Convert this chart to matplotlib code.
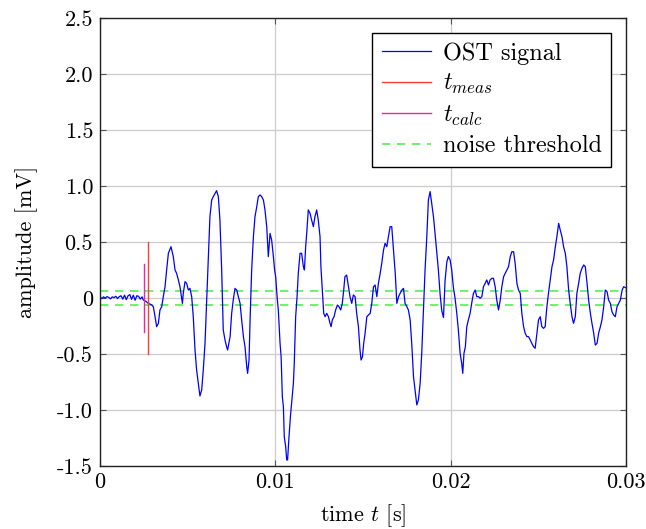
import matplotlib
matplotlib.use("Agg")
import matplotlib.pyplot as plt

plt.rcParams['font.family'] = ['cmr10', 'DejaVu Serif']
plt.rcParams['mathtext.fontset'] = 'cm'
plt.rcParams['axes.unicode_minus'] = False

# --- data (time in ms, amplitude in mV) ---
noise_t_ms = [0.0, 0.1, 0.2, 0.3, 0.4, 0.5, 0.6, 0.7, 0.8, 0.9, 1.0, 1.1, 1.2,
              1.3, 1.4, 1.5, 1.6, 1.7, 1.8, 1.9, 2.0, 2.1, 2.2, 2.3, 2.4]
noise_amp = [0.01, -0.005, 0.01, 0.0, 0.012, 0.005, -0.008, 0.01, 0.003, 0.015,
             -0.005, 0.012, 0.02, -0.01, 0.025, -0.015, 0.02, 0.03, -0.012, 0.025,
             -0.02, 0.02, 0.015, -0.01, 0.01]

wave_t_ms = [2.47, 2.62, 2.76, 2.93, 3.04, 3.14, 3.23, 3.33, 3.42, 3.52, 3.61, 3.71,
             3.80, 3.90, 4.05, 4.18, 4.28, 4.37, 4.47, 4.56, 4.70, 4.75, 4.85, 4.94,
             5.04, 5.13, 5.23, 5.32, 5.42, 5.51, 5.61, 5.70, 5.80, 5.89, 5.99, 6.08,
             6.18, 6.27, 6.37, 6.46, 6.65, 6.75, 6.84, 6.94, 7.03, 7.13, 7.22, 7.28,
             7.42, 7.51, 7.60, 7.70, 7.80, 7.89, 7.99, 8.08, 8.18, 8.27, 8.37, 8.42,
             8.50, 8.56, 8.65, 8.75, 8.84, 8.94, 9.03, 9.13, 9.22, 9.32, 9.41, 9.51,
             9.60, 9.70, 9.79, 9.89, 9.96, 10.02, 10.10, 10.17, 10.27, 10.33, 10.40,
             10.46, 10.51, 10.59, 10.65, 10.70, 10.78, 10.86, 10.93, 11.03, 11.08,
             11.16, 11.24, 11.31, 11.41, 11.50, 11.60, 11.66, 11.73, 11.79, 11.88,
             11.98, 12.07, 12.17, 12.26, 12.36, 12.45, 12.55, 12.60, 12.68, 12.76,
             12.84, 12.93, 13.03, 13.12, 13.18, 13.25, 13.35, 13.44, 13.54, 13.63,
             13.73, 13.82, 13.90, 13.97, 14.07, 14.17, 14.26, 14.36, 14.45, 14.55,
             14.64, 14.74, 14.83, 14.89, 14.97, 15.04, 15.12, 15.22, 15.31, 15.41,
             15.50, 15.60, 15.69, 15.79, 15.88, 15.98, 16.07, 16.17, 16.26, 16.36,
             16.45, 16.55, 16.64, 16.74, 16.84, 16.93, 17.03, 17.12, 17.22, 17.31,
             17.40, 17.50, 17.59, 17.69, 17.78, 17.88, 17.97, 18.07, 18.16, 18.26,
             18.35, 18.45, 18.54, 18.64, 18.73, 18.83, 18.92, 19.02, 19.11, 19.21,
             19.30, 19.40, 19.49, 19.59, 19.68, 19.78, 19.87, 19.97, 20.06, 20.16,
             20.25, 20.35, 20.44, 20.54, 20.63, 20.69, 20.76, 20.84, 20.92, 21.01,
             21.11, 21.20, 21.30, 21.40, 21.49, 21.59, 21.68, 21.78, 21.87, 21.97,
             22.06, 22.16, 22.25, 22.35, 22.44, 22.54, 22.63, 22.73, 22.83, 22.92,
             23.02, 23.11, 23.21, 23.30, 23.40, 23.49, 23.59, 23.68, 23.78, 23.87,
             23.97, 24.06, 24.16, 24.25, 24.35, 24.44, 24.54, 24.63, 24.73, 24.82,
             24.92, 25.01, 25.11, 25.20, 25.30, 25.39, 25.49, 25.58, 25.68, 25.78,
             25.87, 25.97, 26.06, 26.16, 26.25, 26.35, 26.44, 26.54, 26.63, 26.73,
             26.82, 26.92, 27.01, 27.11, 27.20, 27.30, 27.39, 27.49, 27.59, 27.68,
             27.78, 27.87, 27.97, 28.06, 28.16, 28.25, 28.35, 28.44, 28.54, 28.63,
             28.73, 28.82, 28.92, 29.01, 29.11, 29.20, 29.30, 29.39, 29.49, 29.58,
             29.68, 29.78, 29.87, 30.0]
wave_amp = [-0.018, -0.03, -0.048, -0.06, -0.077, -0.167, -0.256, -0.226, -0.107, -0.077, 0.012, 0.101,
            0.25, 0.399, 0.458, 0.369, 0.25, 0.22, 0.161, 0.101, -0.048, 0.042, 0.146, 0.131,
            0.071, 0.086, 0.012, -0.167, -0.464, -0.643, -0.762, -0.875, -0.821, -0.643, -0.405, -0.048,
            0.369, 0.726, 0.875, 0.905, 0.958, 0.905, 0.696, 0.25, -0.286, -0.375, -0.435, -0.464,
            -0.345, -0.137, -0.018, 0.086, 0.071, 0.012, -0.048, -0.196, -0.345, -0.435, -0.613, -0.673,
            -0.554, -0.196, 0.25, 0.548, 0.726, 0.815, 0.905, 0.92, 0.905, 0.875, 0.786, 0.637,
            0.369, 0.577, 0.518, 0.369, 0.25, 0.19, 0.012, -0.107, -0.405, -0.524, -0.881,
            -0.97, -1.238, -1.327, -1.446, -1.446, -1.238, -1.06, -0.94, -0.762, -0.583,
            -0.167, 0.012, 0.22, 0.399, 0.399, 0.28, 0.25, 0.458, 0.577, 0.786,
            0.756, 0.696, 0.637, 0.726, 0.786, 0.696, 0.548, 0.28, 0.071, -0.137,
            -0.167, -0.137, -0.167, -0.226, -0.256, -0.196, -0.167, -0.107, -0.063, -0.077,
            -0.107, -0.048, 0.071, 0.19, 0.205, 0.101, 0.012, -0.048, 0.027, 0.012,
            -0.137, -0.256, -0.464, -0.554, -0.524, -0.405, -0.315, -0.167, -0.152, -0.137,
            -0.048, 0.101, 0.116, 0.012, 0.131, 0.22, 0.309, 0.428, 0.488, 0.458,
            0.548, 0.637, 0.637, 0.428, 0.22, -0.048, 0.012, 0.042, 0.071, 0.086,
            -0.048, -0.077, -0.107, -0.196, -0.405, -0.702, -0.821, -0.955, -0.911, -0.762,
            -0.494, -0.107, 0.25, 0.548, 0.875, 0.95, 0.845, 0.726, 0.577, 0.399,
            0.25, 0.03, -0.11, -0.175, 0.15, 0.32, 0.37, 0.34, 0.25, 0.09,
            0.0, -0.137, -0.286, -0.494, -0.583, -0.673, -0.494, -0.435, -0.256, -0.196,
            -0.137, -0.048, 0.042, 0.071, 0.012, 0.012, -0.003, 0.012, 0.101, 0.131,
            0.161, 0.116, 0.161, 0.176, 0.176, 0.101, -0.018, -0.107, -0.018, 0.101,
            0.19, 0.22, 0.25, 0.28, 0.369, 0.413, 0.413, 0.309, 0.131, 0.071,
            0.042, -0.137, -0.256, -0.315, -0.345, -0.345, -0.375, -0.405, -0.435, -0.449,
            -0.315, -0.196, -0.167, -0.256, -0.271, -0.256, -0.077, 0.042, 0.161, 0.28,
            0.339, 0.458, 0.548, 0.667, 0.607, 0.548, 0.458, 0.399, 0.28, 0.071,
            -0.048, -0.167, -0.226, -0.167, 0.042, 0.131, 0.22, 0.265, 0.295, 0.28,
            0.131, -0.018, -0.137, -0.226, -0.315, -0.42, -0.405, -0.315, -0.256, -0.196,
            -0.077, 0.071, 0.057, -0.018, -0.048, -0.122, -0.152, -0.167, -0.077, -0.048,
            -0.018, 0.071, 0.101, 0.09]

t_meas_ms = 2.74
t_meas_half = 0.5
t_calc_ms = 2.49
t_calc_half = 0.3
noise_threshold = 0.06

x_ticks = [0, 0.01, 0.02, 0.03]
x_ticklabels = ["0", "0.01", "0.02", "0.03"]
y_ticks = [-1.5, -1.0, -0.5, 0, 0.5, 1.0, 1.5, 2.0, 2.5]
y_ticklabels = ["-1.5", "-1.0", "-0.5", "0", "0.5", "1.0", "1.5", "2.0", "2.5"]

t_sig = [v * 1e-3 for v in noise_t_ms + wave_t_ms]
a_sig = noise_amp + wave_amp

fig = plt.figure(figsize=(6.46, 5.29), dpi=100)
ax = fig.add_axes([0.1548, 0.1191, 0.8142, 0.8469])

ax.plot(t_sig, a_sig, color='#0000ff', lw=0.9, label='OST signal', zorder=3)
ax.plot([t_meas_ms * 1e-3] * 2, [-t_meas_half, t_meas_half], color='#ff3b3b', lw=1.0,
        label='$t_{meas}$', zorder=4)
ax.plot([t_calc_ms * 1e-3] * 2, [-t_calc_half, t_calc_half], color='#e8289e', lw=1.0,
        label='$t_{calc}$', zorder=4)
ax.axhline(noise_threshold, color='#55ee55', lw=1.2, ls=(0, (5, 4)),
           label='noise threshold', zorder=2)
ax.axhline(-noise_threshold, color='#55ee55', lw=1.2, ls=(0, (5, 4)), zorder=2)

ax.set_xlim(0, 0.03)
ax.set_ylim(-1.5, 2.5)
ax.set_xticks(x_ticks)
ax.set_xticklabels(x_ticklabels)
ax.set_yticks(y_ticks)
ax.set_yticklabels(y_ticklabels)
ax.grid(True, color='#cccccc', lw=0.9, zorder=0)
ax.set_axisbelow(True)
ax.tick_params(direction='in', length=4, width=0.8, color='#555555',
               top=True, right=True, labelsize=16, pad=5)
for s in ax.spines.values():
    s.set_linewidth(1.0)
    s.set_color('#222222')

ax.set_xlabel('time $t$ [s]', fontsize=16, labelpad=7)
ax.set_ylabel('amplitude [mV]', fontsize=16, labelpad=14)

leg = ax.legend(loc='upper right', fontsize=17.5, frameon=True, fancybox=False,
                edgecolor='black', framealpha=1, handlelength=2.0,
                labelspacing=0.3, borderaxespad=0.6, handletextpad=0.5,
                borderpad=0.4)
leg.get_frame().set_linewidth(1.0)

fig.savefig('out.png', dpi=100)
